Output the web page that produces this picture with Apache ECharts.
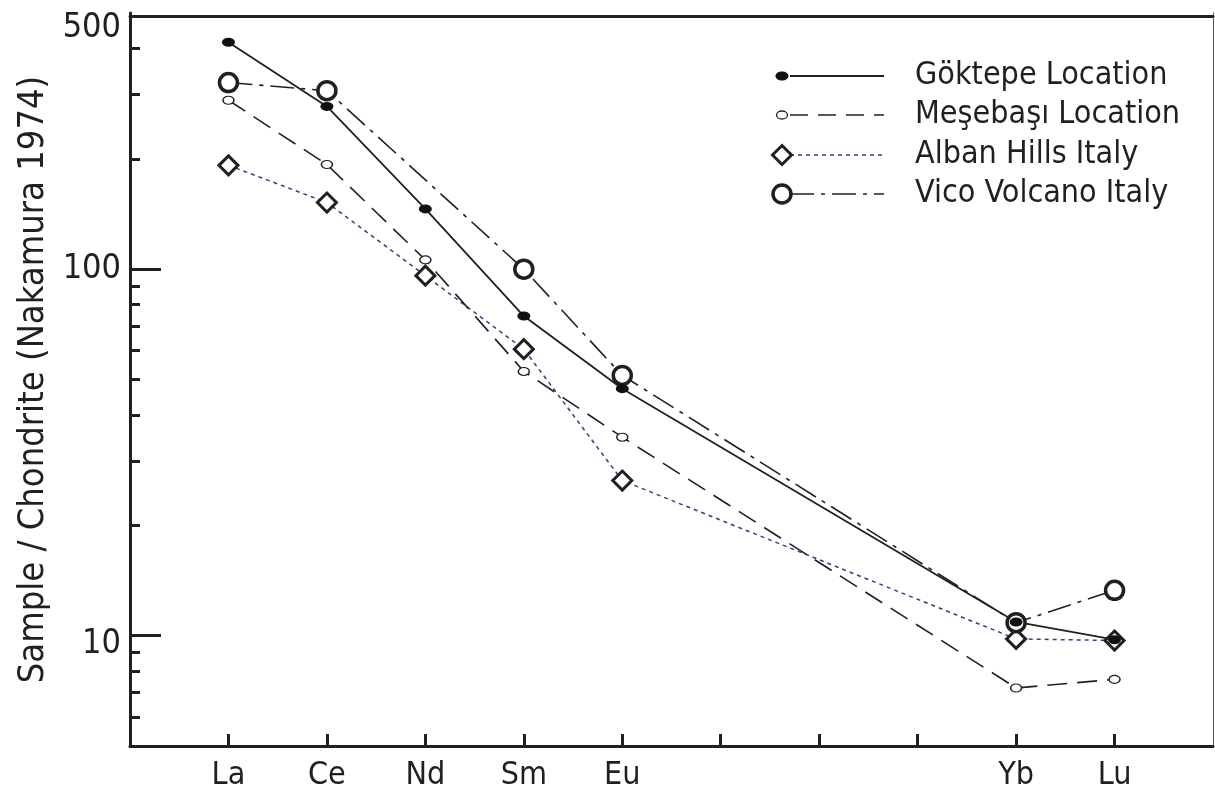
<!DOCTYPE html>
<html>
<head>
<meta charset="utf-8">
<script src="https://cdn.jsdelivr.net/npm/echarts@6/dist/echarts.min.js"></script>
<style>
  html, body { margin: 0; padding: 0; background: #fff; }
  #chart { width: 1215px; height: 794px; }
</style>
</head>
<body>
<div id="chart"></div>
<script>
// REE normalised values (sample / chondrite, Nakamura 1974)
const categories = ['La', 'Ce', 'Nd', 'Sm', 'Eu', '', '', '', 'Yb', 'Lu'];
const goktepe  = [416, 278, 146, 74.5, 47.2, null, null, null, 10.9, 9.75];
const mesebasi = [289, 193, 106, 52.6, 34.8, null, null, null, 7.2, 7.6];
const alban    = [192, 152, 96, 60.5, 26.5, null, null, null, 9.8, 9.7];
const vico     = [323, 307, null, 100, 51.3, null, null, null, 10.85, 13.3];

const yLabelValues = [10, 100, 500];
const yMajorTicks = [10, 100];
const yMinorTicks = [6, 7, 8, 9, 20, 30, 40, 50, 60, 70, 80, 90, 200, 300, 400];

const FONT = "'Liberation Sans Narrow', 'DejaVu Sans Condensed', 'Liberation Sans', sans-serif";
const INK = '#231f20';
const NAVY = '#3a3a80';

function toPoints(arr) {
  return arr.map((v, i) => (v == null ? null : [i, v])).filter(p => p !== null);
}
const catIndex = categories.map((c, i) => i);
const labelIndex = categories.map((c, i) => (c ? i : null)).filter(i => i !== null);

const seriesDefs = [
  { name: 'Alban Hills Italy', data: alban, symbol: 'diamond', symbolSize: 19,
    item: { color: '#fff', borderColor: INK, borderWidth: 3 },
    line: { color: NAVY, width: 1.5, type: [4, 4] } },
  { name: 'Meşebaşı Location', data: mesebasi, symbol: 'circle', symbolSize: [11, 8],
    item: { color: '#fff', borderColor: INK, borderWidth: 1.3 },
    line: { color: INK, width: 1.6, type: [20, 10] } },
  { name: 'Vico Volcano Italy', data: vico, symbol: 'circle', symbolSize: 18,
    item: { color: '#fff', borderColor: INK, borderWidth: 3.5 },
    line: { color: INK, width: 1.6, type: [24, 7, 4, 7] } },
  { name: 'Göktepe Location', data: goktepe, symbol: 'circle', symbolSize: [13, 9],
    item: { color: '#111', borderColor: '#111', borderWidth: 0 },
    line: { color: INK, width: 1.8, type: 'solid' } }
];

const series = seriesDefs.map(s => ({
  name: s.name,
  type: 'line',
  xAxisIndex: 0,
  yAxisIndex: 0,
  data: toPoints(s.data),
  symbol: s.symbol,
  symbolSize: s.symbolSize,
  showAllSymbol: true,
  itemStyle: s.item,
  lineStyle: s.line,
  emphasis: { disabled: true },
  silent: true,
  animation: false
}));

// hand-drawn key: marker at the left end of its line sample, text to the right
const keyRows = [
  { label: 'Göktepe Location', y: 76, mark: 'dot', dash: null, color: INK, width: 1.8 },
  { label: 'Meşebaşı Location', y: 115, mark: 'small', dash: [18, 10], color: INK, width: 1.6 },
  { label: 'Alban Hills Italy', y: 155, mark: 'diamond', dash: [4, 4], color: NAVY, width: 1.5 },
  { label: 'Vico Volcano Italy', y: 194, mark: 'big', dash: [24, 7, 4, 7], color: INK, width: 1.6 }
];
const keyX0 = 782, keyX1 = 884, keyTextX = 915;
const graphic = [];
keyRows.forEach(r => {
  graphic.push({
    type: 'line', silent: true,
    shape: { x1: keyX0 + 8, y1: r.y, x2: keyX1, y2: r.y },
    style: { stroke: r.color, lineWidth: r.width, lineDash: r.dash || null }
  });
  if (r.mark === 'dot') {
    graphic.push({ type: 'ellipse', silent: true, shape: { cx: keyX0, cy: r.y, rx: 6.5, ry: 4.5 },
      style: { fill: '#111' } });
  } else if (r.mark === 'small') {
    graphic.push({ type: 'ellipse', silent: true, shape: { cx: keyX0, cy: r.y, rx: 5.5, ry: 4 },
      style: { fill: '#fff', stroke: INK, lineWidth: 1.3 } });
  } else if (r.mark === 'diamond') {
    graphic.push({ type: 'polygon', silent: true,
      shape: { points: [[keyX0, r.y - 9.5], [keyX0 + 9.5, r.y], [keyX0, r.y + 9.5], [keyX0 - 9.5, r.y]] },
      style: { fill: '#fff', stroke: INK, lineWidth: 3 } });
  } else {
    graphic.push({ type: 'circle', silent: true, shape: { cx: keyX0, cy: r.y, r: 9 },
      style: { fill: '#fff', stroke: INK, lineWidth: 3.5 } });
  }
  graphic.push({
    type: 'text', silent: true, x: keyTextX, y: r.y,
    style: { text: r.label, fill: INK, font: '32px ' + FONT, textVerticalAlign: 'middle' }
  });
});

const labelStyle = { fontSize: 34, fontFamily: FONT, color: INK };
const chart = echarts.init(document.getElementById('chart'), null, { renderer: 'canvas' });
chart.setOption({
  animation: false,
  backgroundColor: '#fff',
  grid: { left: 130, right: 2, top: 13, bottom: 48, containLabel: false },
  xAxis: [
    {
      type: 'value', min: -1, max: 10, interval: 1, position: 'bottom',
      axisLine: { show: true, onZero: false, lineStyle: { color: INK, width: 3 } },
      axisTick: { show: true, inside: true, length: 12, customValues: catIndex,
        lineStyle: { color: INK, width: 3 } },
      axisLabel: { show: true, customValues: labelIndex, margin: 14,
        formatter: v => categories[v] || '', color: INK, fontSize: 32, fontFamily: FONT },
      splitLine: { show: false }
    },
    {
      type: 'value', min: -1, max: 10, position: 'top', offset: -3,
      axisLine: { show: true, onZero: false, lineStyle: { color: INK, width: 3 } },
      axisTick: { show: false }, axisLabel: { show: false }, splitLine: { show: false }
    }
  ],
  yAxis: [
    {
      type: 'log', logBase: 10, min: 5, max: 500, position: 'left',
      name: 'Sample / Chondrite (Nakamura 1974)', nameLocation: 'middle', nameGap: 76,
      nameTextStyle: { color: INK, fontSize: 36, fontFamily: FONT },
      axisLine: { show: true, onZero: false, lineStyle: { color: INK, width: 3 } },
      axisTick: { show: true, inside: true, length: 31, customValues: yMajorTicks,
        lineStyle: { color: INK, width: 3 } },
      axisLabel: {
        show: true, customValues: yLabelValues, margin: 9,
        formatter: v => {
          const n = Math.round(v);
          if (n === 500) return '{top|' + n + '}';
          if (n === 10) return '{low|' + n + '}';
          return String(n);
        },
        color: INK, fontSize: 34, fontFamily: FONT,
        rich: {
          top: Object.assign({ padding: [30, 0, 0, 0] }, labelStyle),
          low: Object.assign({ padding: [16, 0, 0, 0] }, labelStyle)
        }
      },
      splitLine: { show: false }
    },
    {
      type: 'log', logBase: 10, min: 5, max: 500, position: 'left',
      axisLine: { show: false, onZero: false },
      axisTick: { show: true, inside: true, length: 10, customValues: yMinorTicks,
        lineStyle: { color: INK, width: 3 } },
      axisLabel: { show: false }, splitLine: { show: false }
    },
    {
      type: 'log', logBase: 10, min: 5, max: 500, position: 'right',
      axisLine: { show: true, onZero: false, lineStyle: { color: '#555', width: 1 } },
      axisTick: { show: false }, axisLabel: { show: false }, splitLine: { show: false }
    }
  ],
  series: series,
  graphic: graphic
});
</script>
</body>
</html>
